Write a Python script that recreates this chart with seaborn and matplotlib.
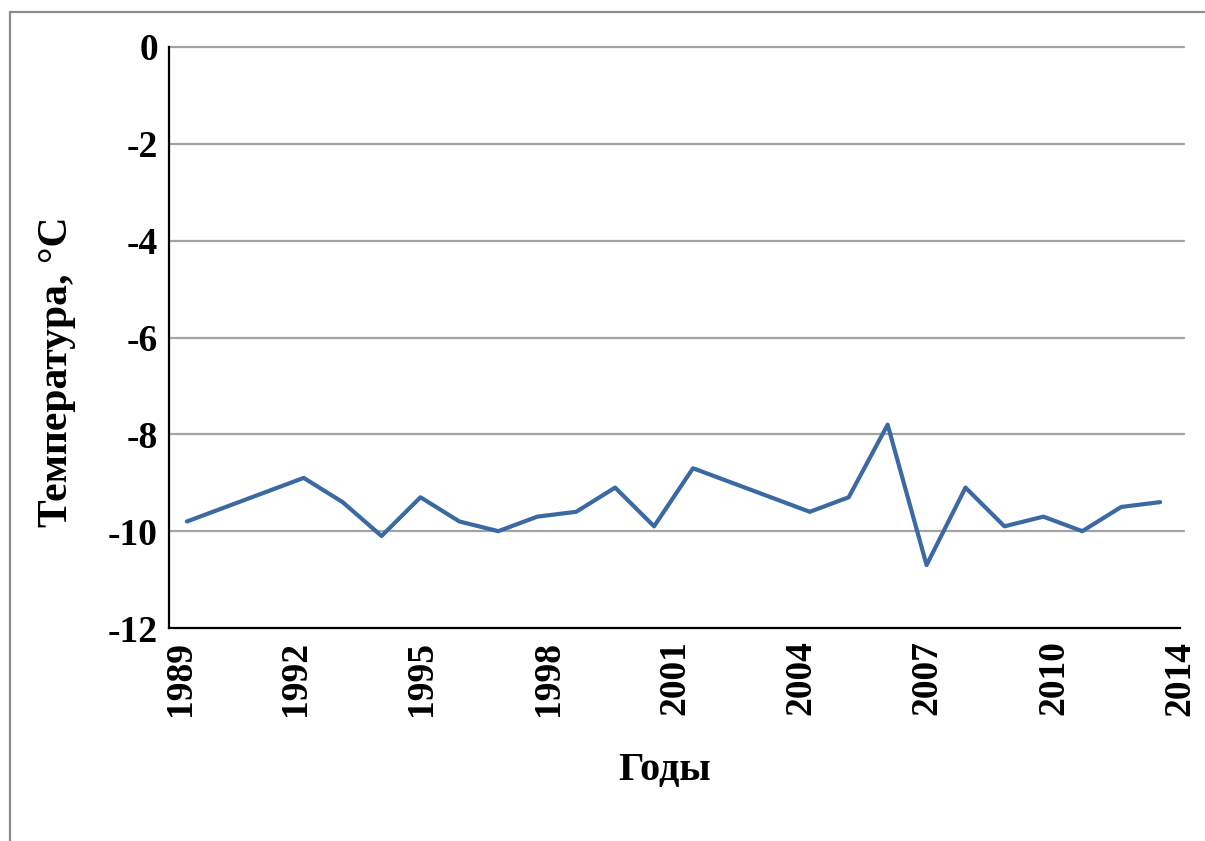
import numpy as np
import pandas as pd
import matplotlib
matplotlib.use("Agg")
import matplotlib.pyplot as plt
import matplotlib.transforms as mtransforms
from matplotlib.lines import Line2D
import seaborn as sns

# Mean temperature by year (gaps in the record: 1990-1991, 2003-2004)
years = [1989, 1992, 1993, 1994, 1995, 1996, 1997, 1998, 1999, 2000, 2001, 2002,
         2005, 2006, 2007, 2008, 2009, 2010, 2011, 2012, 2013, 2014]
temps = [-9.8, -8.9, -9.4, -10.1, -9.3, -9.8, -10.0, -9.7, -9.6, -9.1, -9.9, -8.7,
         -9.6, -9.3, -7.8, -10.7, -9.1, -9.9, -9.7, -10.0, -9.5, -9.4]

x_tick_labels = ["1989", "1992", "1995", "1998", "2001", "2004", "2007", "2010", "2014"]
y_ticks = [0, -2, -4, -6, -8, -10, -12]

df = pd.DataFrame({"year": years, "temp": temps})

sns.set_style("white")
plt.rcParams["font.family"] = ["Liberation Serif", "DejaVu Serif"]
plt.rcParams["text.color"] = "black"
plt.rcParams["xtick.color"] = "black"
plt.rcParams["ytick.color"] = "black"
plt.rcParams["axes.labelcolor"] = "black"

W, H = 1205, 841
fig = plt.figure(figsize=(W / 100, H / 100), dpi=100)
ax = fig.add_axes([169 / W, 1 - 628 / H, (1180 - 169) / W, (628 - 47) / H])

sns.lineplot(data=df, x="year", y="temp", ax=ax, color="#3b69a3", linewidth=3.0,
             zorder=3)

xmin, xmax = 1988.54, 2014.51
ax.set_xlim(xmin, xmax)
ax.set_ylim(-12, 0)

ax.set_xticks(np.linspace(xmin, xmax, len(x_tick_labels)))
ax.set_xticklabels(x_tick_labels, rotation=90, fontsize=27, fontweight="bold")
ax.set_yticks(y_ticks)
ax.set_yticklabels([str(v) for v in y_ticks], fontsize=27, fontweight="bold")

ax.tick_params(axis="x", direction="in", length=16, width=1.4, pad=9)
ax.tick_params(axis="y", length=0, pad=8)

# the first year label sits a little to the right of the axis corner
first = ax.get_xticklabels()[0]
first.set_transform(first.get_transform()
                    + mtransforms.ScaledTranslation(0.12, 0, fig.dpi_scale_trans))

for v in y_ticks[:-1]:
    ax.axhline(v, color="#a3a3a3", linewidth=1.6, zorder=1, xmax=1.004, clip_on=False)

for side in ("top", "right"):
    ax.spines[side].set_visible(False)
for side in ("left", "bottom"):
    ax.spines[side].set_color("black")
    ax.spines[side].set_linewidth(1.6)

ax.set_xlabel("Годы", fontsize=29, fontweight="bold")
ax.xaxis.set_label_coords((665 - 169) / 1011, (628 - 752) / 581)
ax.set_ylabel("Температура, °C", fontsize=30, fontweight="bold")
ax.yaxis.set_label_coords((76 - 169) / 1011, (628 - 372) / 581)

# thin frame along the top and left edges of the figure
frame_kw = dict(color="#8c8c8c", linewidth=1.6, transform=fig.transFigure)
fig.add_artist(Line2D([10 / W, 1.0], [1 - 12 / H, 1 - 12 / H], **frame_kw))
fig.add_artist(Line2D([10 / W, 10 / W], [1 - 12 / H, 0.0], **frame_kw))

fig.savefig("out.png", dpi=100, facecolor="white")
